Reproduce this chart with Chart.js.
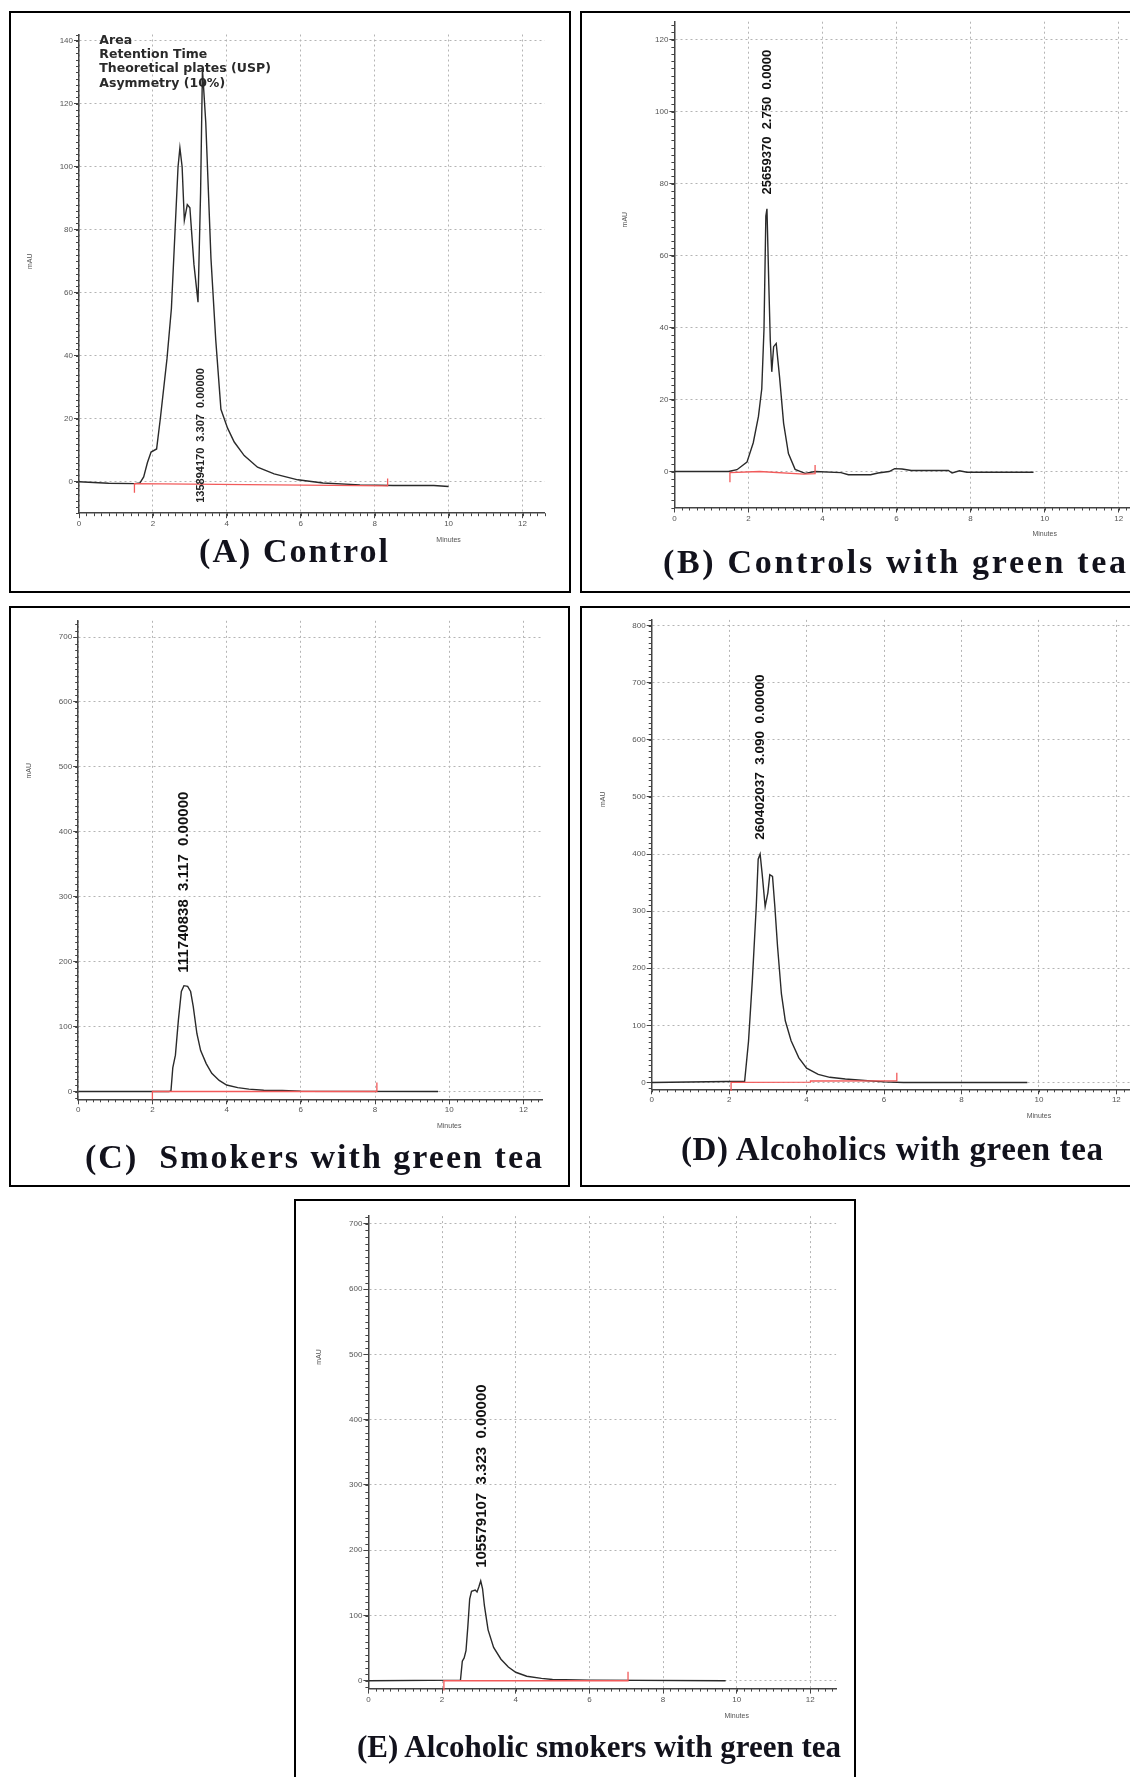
<!DOCTYPE html>
<html>
<head>
<meta charset="utf-8">
<script src="https://cdn.jsdelivr.net/npm/chart.js@4.4.1/dist/chart.umd.min.js"></script>
<style>
  html, body { margin: 0; padding: 0; background: #fff; }
  body { width: 1130px; height: 1777px; overflow: hidden; position: relative; }
  .panel { position: absolute; box-sizing: border-box; border: 2px solid #000; }
  .panel canvas { position: absolute; left: 0; top: 0; }
  .title { position: absolute; white-space: pre; font-family: "Liberation Serif", "Times New Roman", serif;
           font-weight: bold; line-height: 1; color: #12121c; }
</style>
</head>
<body>
<script>
// --- traces (minutes, mAU) ---
const timeA   = [0, 0.8, 1.5, 1.65, 1.75, 1.85, 1.95, 2.1, 2.2, 2.38, 2.5, 2.6, 2.68, 2.73, 2.79, 2.85, 2.93, 3.0, 3.11, 3.22, 3.29, 3.34, 3.43, 3.57, 3.7, 3.84, 4.02, 4.2, 4.47, 4.83, 5.28, 5.92, 6.6, 7.6, 8.5, 9.6, 10.0];
const signalA = [0, -0.5, -0.6, -0.4, 1.5, 6, 9.4, 10.4, 20, 39, 55, 80, 100, 106, 100, 83, 88, 87, 69, 57, 92, 131, 114, 71, 45, 23, 17, 12.6, 8.3, 4.6, 2.5, 0.6, -0.4, -1, -1.2, -1.2, -1.5];
const timeB   = [0, 1.46, 1.69, 1.96, 2.13, 2.27, 2.36, 2.42, 2.47, 2.5, 2.55, 2.59, 2.63, 2.68, 2.75, 2.84, 2.95, 3.08, 3.26, 3.53, 3.8, 4.5, 4.7, 5.3, 5.5, 5.8, 5.95, 6.15, 6.4, 7.4, 7.5, 7.7, 7.9, 9.7];
const signalB = [0, 0, 0.5, 2.6, 8, 15.3, 23, 39.6, 71, 73, 52, 36.5, 27.7, 34.7, 35.6, 26.3, 13.4, 5, 0.6, -0.5, 0, -0.3, -0.9, -0.9, -0.4, 0, 0.8, 0.7, 0.3, 0.3, -0.4, 0.2, -0.2, -0.2];
const timeC   = [0, 2.45, 2.5, 2.55, 2.62, 2.7, 2.78, 2.85, 2.95, 3.03, 3.1, 3.2, 3.3, 3.45, 3.6, 3.8, 4.0, 4.3, 4.6, 5.0, 5.5, 6.0, 9.7];
const signalC = [0, 0, 1, 37, 56, 110, 154, 163, 162, 154, 131, 89, 63, 43, 28, 17, 10, 6, 3.6, 2, 1.5, 0.5, 0];
const timeD   = [0, 2.4, 2.5, 2.6, 2.7, 2.75, 2.8, 2.85, 2.93, 3.0, 3.05, 3.12, 3.18, 3.25, 3.35, 3.45, 3.6, 3.8, 4.0, 4.3, 4.6, 5.0, 5.5, 6.0, 6.5, 9.7];
const signalD = [0, 2, 72, 180, 308, 391, 400, 367, 308, 332, 364, 361, 308, 238, 155, 108, 73, 43, 25, 14, 9, 6, 3.5, 1, 0, 0];
const timeE   = [0, 2.5, 2.55, 2.6, 2.65, 2.7, 2.75, 2.8, 2.9, 2.95, 3.0, 3.05, 3.1, 3.15, 3.25, 3.4, 3.6, 3.8, 4.0, 4.3, 4.7, 5.0, 6.0, 9.7];
const signalE = [0, 1, 30, 35, 46, 83, 125, 137, 139, 136, 144, 153, 141, 115, 78, 51, 33, 21, 13, 7, 3.7, 2, 1, 0];

// integration baselines (red), with the start/end markers
const baseTimeA   = [1.5, 1.5, 8.35, 8.35];
const baseSignalA = [-3.5, -0.6, -1.3, 1.0];
const baseTimeB   = [1.5, 1.5, 2.3, 3.5, 3.8, 3.8];
const baseSignalB = [-3, -0.3, 0, -0.7, -0.6, 1.8];
const baseTimeC   = [2.0, 2.0, 8.05, 8.05];
const baseSignalC = [-15, 0, 0, 14];
const baseTimeD   = [2.05, 2.05, 4.1, 4.1, 6.33, 6.33];
const baseSignalD = [-15, 0, 0.5, 2.5, 3, 17];
const baseTimeE   = [2.05, 2.05, 7.05, 7.05];
const baseSignalE = [-15, 0, 0, 14];

// tick labels
const xTicks  = [0, 2, 4, 6, 8, 10, 12];
const yTicksA = [0, 20, 40, 60, 80, 100, 120, 140];
const yTicksB = [0, 20, 40, 60, 80, 100, 120];
const yTicksC = [0, 100, 200, 300, 400, 500, 600, 700];
const yTicksD = [0, 100, 200, 300, 400, 500, 600, 700, 800];
const yTicksE = [0, 100, 200, 300, 400, 500, 600, 700];

// peak tables and captions
const peakA = '135894170  3.307  0.00000';
const peakB = '25659370  2.750  0.0000';
const peakC = '111740838  3.117  0.00000';
const peakD = '260402037  3.090  0.00000';
const peakE = '105579107  3.323  0.00000';
const legendA = ['Area', 'Retention Time', 'Theoretical plates (USP)', 'Asymmetry (10%)'];
const titleA = '(A) Control';
const titleB = '(B) Controls with green tea';
const titleC = '(C)  Smokers with green tea';
const titleD = '(D) Alcoholics with green tea';
const titleE = '(E) Alcoholic smokers with green tea';

Chart.defaults.font.family = '"Liberation Sans", Arial, sans-serif';

// box: page left/top/width/height; plot: page px of [xmin, xmax] and [ymax, ymin]
const panels = [
  { box: [9, 11, 562, 582], plot: [79, 544.7, 34.5, 513.2], xMax: 12.6, yMin: -10, yMax: 142, yTicks: yTicksA, yMinor: 2,
    t: timeA, s: signalA, bt: baseTimeA, bs: baseSignalA, peak: peakA, peakAt: [3.3, -6.7], peakFont: 11, peakColor: '#222',
    yTitleAt: 70, legend: legendA, title: titleA, titleAt: [199, 388, 551], titleSize: 34 },
  { box: [580, 11, 570, 582], plot: [674.4, 1140.9, 21.7, 507.5], xMax: 12.6, yMin: -10, yMax: 125, yTicks: yTicksB, yMinor: 2,
    t: timeB, s: signalB, bt: baseTimeB, bs: baseSignalB, peak: peakB, peakAt: [2.5, 77], peakFont: 13, peakColor: '#111',
    yTitleAt: 70, title: titleB, titleAt: [663, 1126, 562], titleSize: 34 },
  { box: [9, 606, 561, 581], plot: [78.2, 542, 620.8, 1099.3], xMax: 12.5, yMin: -12, yMax: 725, yTicks: yTicksC, yMinor: 10,
    t: timeC, s: signalC, bt: baseTimeC, bs: baseSignalC, peak: peakC, peakAt: [2.85, 183], peakFont: 15, peakColor: '#111',
    yTitleAt: 494, title: titleC, titleAt: [85, 542, 1157], titleSize: 34 },
  { box: [580, 606, 570, 581], plot: [651.7, 1139.6, 619.9, 1089.3], xMax: 12.6, yMin: -12, yMax: 810, yTicks: yTicksD, yMinor: 10,
    t: timeD, s: signalD, bt: baseTimeD, bs: baseSignalD, peak: peakD, peakAt: [2.8, 425], peakFont: 13.5, peakColor: '#111',
    yTitleAt: 496, title: titleD, titleAt: [681, 1103, 1149], titleSize: 33 },
  { box: [294, 1199, 562, 590], plot: [368.4, 836.1, 1216.1, 1688.6], xMax: 12.7, yMin: -12, yMax: 712, yTicks: yTicksE, yMinor: 10,
    t: timeE, s: signalE, bt: baseTimeE, bs: baseSignalE, peak: peakE, peakAt: [3.07, 173], peakFont: 15, peakColor: '#111',
    yTitleAt: 496, title: titleE, titleAt: [357, 841, 1746], titleSize: 31 }
];

const Y_AXIS_W = 20, X_AXIS_H = 16;

function decor(p) {
  return {
    id: 'decor',
    afterDraw(chart) {
      const { ctx, chartArea: a, scales: { x, y } } = chart;
      ctx.save();
      // minor ticks
      ctx.strokeStyle = '#444';
      ctx.lineWidth = 1;
      ctx.beginPath();
      for (let v = 0; v <= x.max + 1e-6; v += 0.2) {
        const px = Math.round(x.getPixelForValue(v)) + 0.5;
        ctx.moveTo(px, a.bottom); ctx.lineTo(px, a.bottom + 3);
      }
      for (let v = Math.ceil(y.min / p.yMinor) * p.yMinor; v <= y.max; v += p.yMinor) {
        const py = Math.round(y.getPixelForValue(v)) + 0.5;
        ctx.moveTo(a.left - 3, py); ctx.lineTo(a.left, py);
      }
      ctx.stroke();

      // axis names
      ctx.fillStyle = '#555';
      ctx.font = '7px "Liberation Sans", Arial, sans-serif';
      ctx.textAlign = 'center';
      ctx.textBaseline = 'middle';
      ctx.fillText('Minutes', x.getPixelForValue(10), a.bottom + 27);
      ctx.save();
      ctx.translate(a.left - 49, y.getPixelForValue(p.yTitleAt));
      ctx.rotate(-Math.PI / 2);
      ctx.fillText('mAU', 0, 0);
      ctx.restore();

      // peak table, written upward
      ctx.save();
      ctx.fillStyle = p.peakColor;
      ctx.font = `bold ${p.peakFont}px "Liberation Sans", Arial, sans-serif`;
      ctx.translate(x.getPixelForValue(p.peakAt[0]), y.getPixelForValue(p.peakAt[1]));
      ctx.rotate(-Math.PI / 2);
      ctx.textAlign = 'left';
      ctx.fillText(p.peak, 0, 0);
      ctx.restore();

      // report legend (panel A only)
      if (p.legend) {
        ctx.fillStyle = '#2a2a2a';
        ctx.font = 'bold 12.5px "DejaVu Sans", Verdana, sans-serif';
        ctx.textAlign = 'left';
        p.legend.forEach((s, i) => {
          ctx.fillText(s, x.getPixelForValue(0.55), a.top + 6 + i * 14.3);
        });
      }
      ctx.restore();
    }
  };
}

function placeTitle(text, left, right, cy, size) {
  const el = document.createElement('div');
  el.className = 'title';
  el.style.fontSize = size + 'px';
  el.textContent = text;
  document.body.appendChild(el);
  const natural = el.getBoundingClientRect().width;
  el.style.letterSpacing = ((right - left - natural) / (text.length - 1)) + 'px';
  el.style.left = left + 'px';
  el.style.top = (cy - el.getBoundingClientRect().height / 2) + 'px';
}

panels.forEach(p => {
  const [L, T, W, H] = p.box;
  const div = document.createElement('div');
  div.className = 'panel';
  Object.assign(div.style, { left: L + 'px', top: T + 'px', width: W + 'px', height: H + 'px' });
  document.body.appendChild(div);

  const cw = W - 4, ch = H - 4, cx = L + 2, cy = T + 2;
  const canvas = document.createElement('canvas');
  canvas.width = cw; canvas.height = ch;
  canvas.style.width = cw + 'px'; canvas.style.height = ch + 'px';
  div.appendChild(canvas);

  const [pl, pr, pt, pb] = p.plot;
  const padding = {
    left: pl - cx - Y_AXIS_W,
    right: cw - (pr - cx),
    top: pt - cy,
    bottom: ch - (pb - cy) - X_AXIS_H
  };

  new Chart(canvas.getContext('2d'), {
    type: 'scatter',
    data: {
      datasets: [
        { data: p.bt.map((v, i) => ({ x: v, y: p.bs[i] })), showLine: true, borderColor: '#f25a5a',
          borderWidth: 1.3, pointRadius: 0, clip: false },
        { data: p.t.map((v, i) => ({ x: v, y: p.s[i] })), showLine: true, borderColor: '#2a2a2a',
          borderWidth: 1.4, pointRadius: 0 }
      ]
    },
    options: {
      responsive: false,
      animation: false,
      events: [],
      layout: { padding },
      plugins: { legend: { display: false }, tooltip: { enabled: false } },
      scales: {
        x: {
          type: 'linear', min: 0, max: p.xMax,
          afterBuildTicks: s => { s.ticks = xTicks.map(v => ({ value: v })); },
          afterFit: s => { s.height = X_AXIS_H; },
          ticks: { font: { size: 8 }, color: '#555', padding: 1, maxRotation: 0, autoSkip: false },
          grid: { color: '#b4b4b4', lineWidth: 1, tickLength: 5, tickColor: '#444' },
          border: { display: true, color: '#444', width: 1.5, dash: [2, 3] }
        },
        y: {
          type: 'linear', min: p.yMin, max: p.yMax,
          afterBuildTicks: s => { s.ticks = p.yTicks.map(v => ({ value: v })); },
          afterFit: s => { s.width = Y_AXIS_W; },
          ticks: { font: { size: 8 }, color: '#555', padding: 1, autoSkip: false },
          grid: { color: '#b4b4b4', lineWidth: 1, tickLength: 5, tickColor: '#444' },
          border: { display: true, color: '#444', width: 1.5, dash: [2, 3] }
        }
      }
    },
    plugins: [decor(p)]
  });

  placeTitle(p.title, p.titleAt[0], p.titleAt[1], p.titleAt[2], p.titleSize);
});
</script>
</body>
</html>
